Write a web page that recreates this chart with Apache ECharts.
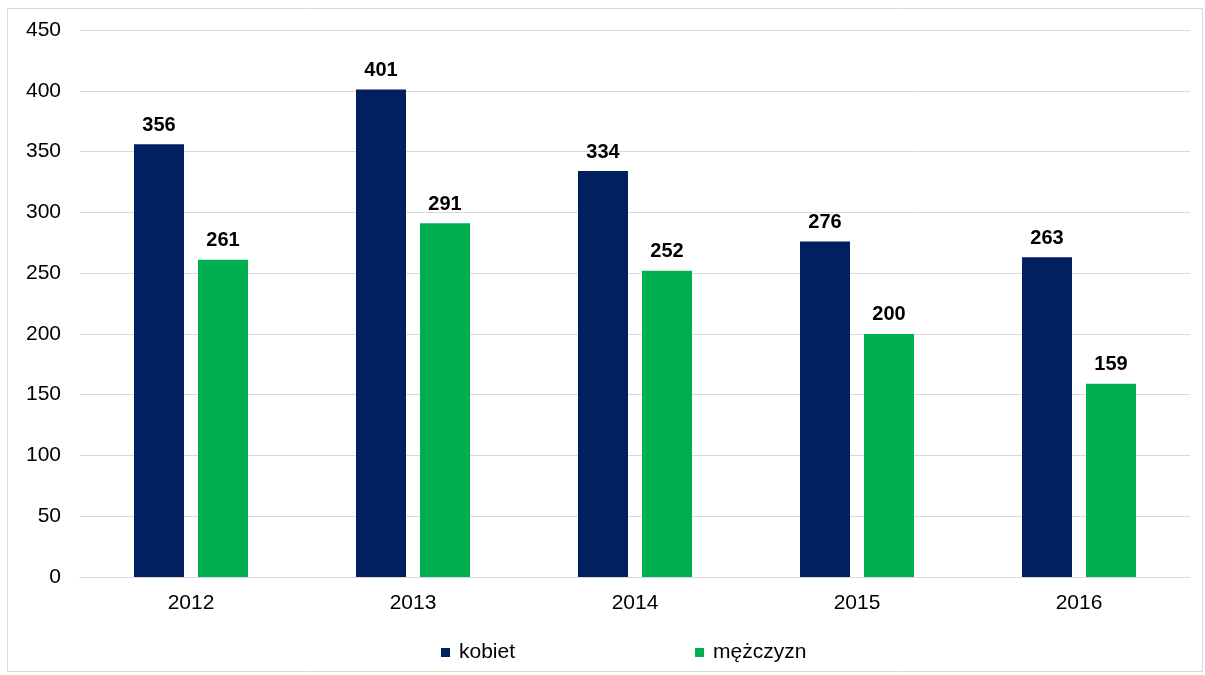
<!DOCTYPE html>
<html>
<head>
<meta charset="utf-8">
<script src="https://cdn.jsdelivr.net/npm/echarts@6/dist/echarts.min.js"></script>
<style>
  html, body { margin: 0; padding: 0; background: #fff; }
  #chart { width: 1205px; height: 675px; }
</style>
</head>
<body>
<div id="chart"></div>
<script>
// dane
const years = ["2012", "2013", "2014", "2015", "2016"];
const kobiet = [356, 401, 334, 276, 263];
const mezczyzn = [261, 291, 252, 200, 159];
const seriesNames = ["kobiet", "mężczyzn"];

let myChart = echarts.init(document.getElementById("chart"));

const labelStyle = {
  show: true,
  position: "top",
  distance: 9,
  fontFamily: "Liberation Sans, Arial",
  fontWeight: "bold",
  fontSize: 20,
  color: "#000"
};

myChart.setOption({
  animation: false,
  textStyle: { fontFamily: "Liberation Sans, Arial" },
  graphic: [
    {
      type: "rect",
      shape: { x: 7.5, y: 8.5, width: 1195, height: 663 },
      style: { fill: "none", stroke: "#d9d9d9", lineWidth: 1 },
      silent: true
    }
  ],
  legend: {
    data: seriesNames,
    left: 441,
    top: 642,
    padding: 0,
    itemWidth: 9,
    itemHeight: 9,
    itemGap: 180,
    icon: "rect",
    textStyle: { fontSize: 21, color: "#000", padding: [0, 0, 0, 4] }
  },
  grid: {
    left: 80,
    right: 15,
    top: 30,
    bottom: 98
  },
  xAxis: {
    type: "category",
    data: years,
    axisLine: { lineStyle: { color: "#d9d9d9" } },
    axisTick: { show: false },
    axisLabel: { fontSize: 21, color: "#000", margin: 16 }
  },
  yAxis: {
    type: "value",
    min: 0,
    max: 450,
    interval: 50,
    axisLine: { show: false },
    axisTick: { show: false },
    splitLine: { lineStyle: { color: "#d9d9d9" } },
    axisLabel: { fontSize: 21, color: "#000", margin: 19 }
  },
  series: [
    {
      name: seriesNames[0],
      type: "bar",
      data: kobiet,
      barWidth: 50,
      barGap: "28%",
      itemStyle: { color: "#002060" },
      label: labelStyle
    },
    {
      name: seriesNames[1],
      type: "bar",
      data: mezczyzn,
      barWidth: 50,
      itemStyle: { color: "#00b050" },
      label: labelStyle
    }
  ]
});
</script>
</body>
</html>
